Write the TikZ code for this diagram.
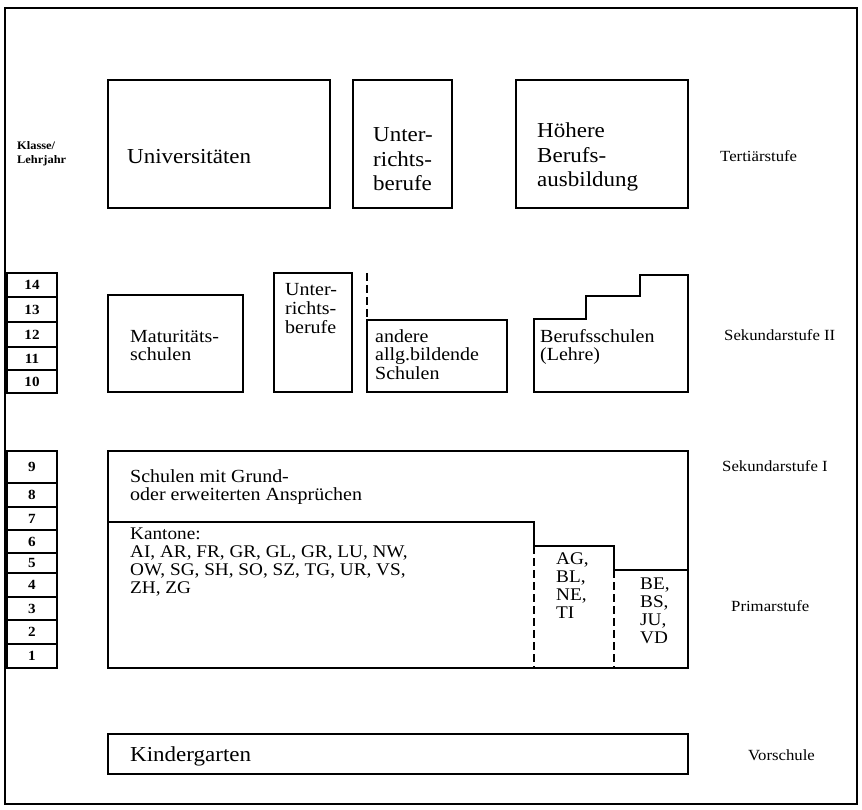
\documentclass[tikz,border=0pt]{standalone}
\usepackage{fontspec}
\setmainfont[FakeStretch=1.08]{Liberation Serif}
% left-aligned block of lines whose reference point is the first baseline
\newcommand\txtblock[1]{\begin{tabular}[t]{@{}l@{}}#1\end{tabular}}
\begin{document}
\begin{tikzpicture}[x=1pt,y=-1pt,
  frame/.style={line width=1.7pt},
  box/.style={line width=1.2pt},
  dashline/.style={line width=1.2pt,dash pattern=on 8pt off 4pt},
  gridbox/.style={draw,line width=1.1pt,minimum width=50pt,inner sep=0pt,
    font=\bfseries\fontsize{14}{14}\selectfont},
  big/.style={anchor=base west,inner sep=0pt,font=\fontsize{21.3}{24.5}\selectfont},
  mid/.style={anchor=base west,inner sep=0pt,font=\fontsize{18.5}{18.5}\selectfont},
  cantons/.style={anchor=base west,inner sep=0pt,font=\fontsize{17.8}{18}\selectfont},
  stage/.style={anchor=base west,inner sep=0pt,font=\fontsize{15.5}{15.5}\selectfont},
  tiny/.style={anchor=base west,inner sep=0pt,font=\bfseries\fontsize{11.5}{13.5}\selectfont},
]
\useasboundingbox (0,0) rectangle (862,810);
\draw[frame] (5,8) rectangle (857,804);

% ---------- Tertiärstufe ----------
\draw[box] (108,80) rectangle (330,208);
\node[big] (uni) at (127,164) {Universitäten};
\draw[box] (353,80) rectangle (452,208);
\node[big] (unt1) at (373,142) {\txtblock{Unter-\\richts-\\berufe}};
\draw[box] (516,80) rectangle (688,208);
\node[big] (hbb) at (537,138) {\txtblock{Höhere\\Berufs-\\ausbildung}};
\node[stage] (tert) at (720,162) {Tertiärstufe};
\node[tiny] (klasse) at (17,150) {\txtblock{Klasse/\\Lehrjahr}};

% ---------- Sekundarstufe II ----------
\node[gridbox,minimum height=24pt] (k14) at (32,285) {14};
\node[gridbox,minimum height=25pt] (k13) at (32,309.5) {13};
\node[gridbox,minimum height=25pt] (k12) at (32,334.5) {12};
\node[gridbox,minimum height=23pt] (k11) at (32,358.5) {11};
\node[gridbox,minimum height=23pt] (k10) at (32,381.5) {10};

\draw[box] (108,295) rectangle (243,392);
\node[mid] (mat) at (130,342) {\txtblock{Maturitäts-\\schulen}};
\draw[box] (274,273) rectangle (352,392);
\node[mid] (unt2) at (285,296) {\txtblock{Unter-\\richts-\\berufe}};
\draw[dashline] (367,273) -- (367,320);
\draw[box] (367,320) rectangle (507,392);
\node[mid] (and) at (375,342) {\txtblock{andere\\allg.bildende\\Schulen}};
\draw[box] (534,392) -- (534,319) -- (586,319) -- (586,296) -- (640,296)
  -- (640,275) -- (688,275) -- (688,392) -- cycle;
\node[mid] (bs) at (540,342) {\txtblock{Berufsschulen\\(Lehre)}};
\node[stage] (sek2) at (724,341) {Sekundarstufe II};

% ---------- Sekundarstufe I / Primarstufe ----------
\node[gridbox,minimum height=32pt] (k9) at (32,467) {9};
\node[gridbox,minimum height=24pt] (k8) at (32,495) {8};
\node[gridbox,minimum height=23pt] (k7) at (32,518.5) {7};
\node[gridbox,minimum height=23pt] (k6) at (32,541.5) {6};
\node[gridbox,minimum height=20pt] (k5) at (32,563) {5};
\node[gridbox,minimum height=24pt] (k4) at (32,585) {4};
\node[gridbox,minimum height=23pt] (k3) at (32,608.5) {3};
\node[gridbox,minimum height=24pt] (k2) at (32,632) {2};
\node[gridbox,minimum height=24pt] (k1) at (32,656) {1};

\draw[box] (108,451) rectangle (688,668);
\draw[box] (108,522) -- (534,522) -- (534,546) -- (614,546) -- (614,570) -- (688,570);
\draw[dashline] (534,546) -- (534,668);
\draw[dashline] (614,570) -- (614,668);
\node[mid] (sgr) at (130,482) {\txtblock{Schulen mit Grund-\\oder erweiterten Ansprüchen}};
\node[cantons] (kt) at (130,539) {\txtblock{Kantone:\\AI, AR, FR, GR, GL, GR, LU, NW,\\OW, SG, SH, SO, SZ, TG, UR, VS,\\ZH, ZG}};
\node[cantons] (kt2) at (556,564) {\txtblock{AG,\\BL,\\NE,\\TI}};
\node[cantons] (kt3) at (640,589) {\txtblock{BE,\\BS,\\JU,\\VD}};
\node[stage] (sek1) at (722,471) {Sekundarstufe I};
\node[stage] (prim) at (731,611) {Primarstufe};

% ---------- Vorschule ----------
\draw[box] (108,734) rectangle (688,774);
\node[big] (kg) at (130,761) {Kindergarten};
\node[stage] (vor) at (748,760) {Vorschule};
\end{tikzpicture}
\end{document}
